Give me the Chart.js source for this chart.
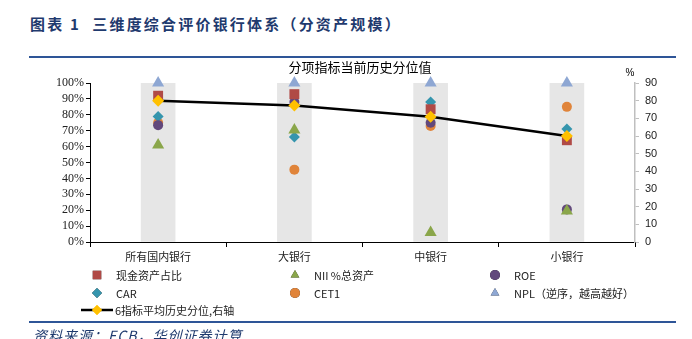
<!DOCTYPE html>
<html>
<head>
<meta charset="utf-8">
<script src="https://cdn.jsdelivr.net/npm/chart.js@4.4.0/dist/chart.umd.min.js"></script>
<style>
    body { margin: 0; background: #fff; }
    #wrap { position: relative; width: 692px; height: 339px; overflow: hidden; }
    #head {
        position: absolute; left: 30px; top: 13px;
        font-family: "Noto Sans CJK SC", sans-serif; font-weight: bold;
        font-size: 15px; color: #1f3a6e; letter-spacing: 2.2px;
    }
    #headLine { position: absolute; left: 29px; top: 56px; width: 647px; height: 2px; background: #2e5597; }
    #footLine { position: absolute; left: 29px; top: 321px; width: 647px; height: 1.5px; background: #2e5597; }
    #foot {
        position: absolute; left: 33px; top: 325px;
        font-family: "Noto Sans CJK SC", sans-serif; font-style: italic;
        font-size: 14px; color: #1f3a6e; letter-spacing: 1px;
    }
    canvas { position: absolute; left: 0; top: 0; }
</style>
</head>
<body>
<div id="wrap">
    <div id="head">图表 1&nbsp;&nbsp;三维度综合评价银行体系（分资产规模）</div>
    <div id="headLine"></div>
    <canvas id="myChart" width="692" height="339"></canvas>
    <div id="footLine"></div>
    <div id="foot">资料来源：ECB，华创证券计算</div>
</div>
<script>
// categories
const categories = ['所有国内银行', '大银行', '中银行', '小银行'];

// marker series (left axis, %)
const cashRatio = [92, 93, 83.5, 64];
const niiAssets = [61, 70.5, 6, 19.5];
const roe = [73.5, 88, 75, 20.5];
const car = [79, 66, 88, 71];
const cet1 = [75, 45.5, 73, 85];
const npl = [100, 100, 100, 100];

// grey background columns (left axis)
const backColumn = [100, 100, 100, 100];

// average of the 6 indicators (right axis)
const avgPercentile = [80, 77.2, 70.9, 60];

// tick settings
const leftTicks = { min: 0, max: 100, step: 10 };
const rightTicks = { min: 0, max: 90, step: 10 };

const serif = '"Liberation Serif", "Times New Roman", serif';
const cjk = '"Noto Sans CJK SC", sans-serif';

function marker(label, data, style, color, radius) {
    return {
        type: 'line',
        label: label,
        data: data,
        yAxisID: 'yLeft',
        showLine: false,
        pointStyle: style,
        pointRadius: radius,
        pointHoverRadius: radius,
        backgroundColor: color,
        borderColor: color,
        borderWidth: 0,
        clip: false,
        order: 2
    };
}

// legend drawn by hand: 3 columns + line item
const legendPlugin = {
    id: 'gridLegend',
    afterDraw(chart) {
        const c = chart.ctx;
        const cols = [97, 295, 495];
        const rows = [275, 293];
        const items = chart.data.datasets.filter(d => d.order === 2);
        c.save();
        c.font = '11px ' + cjk;
        c.textBaseline = 'middle';
        c.fillStyle = '#222';
        items.forEach((d, i) => {
            const x = cols[i % 3];
            const y = rows[Math.floor(i / 3)];
            Chart.helpers.drawPoint(c, {
                pointStyle: d.pointStyle, radius: d.pointStyle === 'rect' ? 6 : 5, rotation: 0, borderWidth: 0
            }, x, y);
            c.fillStyle = d.backgroundColor;
            c.fill();
            c.fillStyle = '#222';
            c.fillText(d.label, x + 19, y + 1);
        });
        // line item
        const avg = chart.data.datasets.find(d => d.order === 1);
        c.strokeStyle = '#000';
        c.lineWidth = 2.5;
        c.beginPath();
        c.moveTo(81, 310);
        c.lineTo(113, 310);
        c.stroke();
        c.fillStyle = avg.pointBackgroundColor;
        Chart.helpers.drawPoint(c, { pointStyle: 'rectRot', radius: 5, rotation: 0, borderWidth: 0 }, 97, 310);
        c.fill();
        c.fillStyle = '#222';
        c.fillText(avg.label, 115, 311);

        // chart title and right axis unit
        c.textAlign = 'center';
        c.font = '13px ' + cjk;
        c.fillStyle = '#000';
        c.fillText('分项指标当前历史分位值', 360, 67);
        c.font = '10px "Liberation Sans", sans-serif';
        c.fillText('%', 630, 73);
        c.restore();
    }
};

new Chart(document.getElementById('myChart'), {
    data: {
        labels: categories,
        datasets: [
            {
                type: 'bar',
                label: 'bg',
                data: backColumn,
                yAxisID: 'yLeft',
                backgroundColor: '#e6e6e6',
                barThickness: 34,
                order: 10
            },
            marker('现金资产占比', cashRatio, 'rect', '#b04a46', 7),
            marker('NII %总资产', niiAssets, 'triangle', '#8aa64a', 7),
            marker('ROE', roe, 'circle', '#62487c', 5),
            marker('CAR', car, 'rectRot', '#3595ad', 5.5),
            marker('CET1', cet1, 'circle', '#e0843a', 5),
            marker('NPL（逆序，越高越好）', npl, 'triangle', '#8ea7d3', 7),
            {
                type: 'line',
                label: '6指标平均历史分位,右轴',
                data: avgPercentile,
                yAxisID: 'yRight',
                borderColor: '#000',
                borderWidth: 2.5,
                pointStyle: 'rectRot',
                pointRadius: 6,
                pointHoverRadius: 6,
                pointBackgroundColor: '#ffc000',
                pointBorderColor: '#ffc000',
                pointBorderWidth: 0,
                tension: 0,
                clip: false,
                order: 1
            }
        ]
    },
    options: {
        responsive: false,
        animation: false,
        layout: {
            padding: { left: 40, right: 17, top: 83, bottom: 75 }
        },
        scales: {
            x: {
                offset: true,
                grid: {
                    display: true,
                    offset: true,
                    drawOnChartArea: false,
                    color: '#000',
                    tickLength: 5
                },
                border: { color: '#000', width: 1 },
                ticks: {
                    color: '#222',
                    font: { family: cjk, size: 11 },
                    padding: 3
                },
                afterFit(scale) { scale.height = 22; }
            },
            yLeft: {
                position: 'left',
                min: leftTicks.min,
                max: leftTicks.max,
                grid: { drawOnChartArea: false, color: '#000', tickLength: 4 },
                border: { color: '#000', width: 1 },
                ticks: {
                    stepSize: leftTicks.step,
                    autoSkip: false,
                    color: '#222',
                    font: { family: serif, size: 12 },
                    padding: 2,
                    callback: v => v + '%'
                },
                afterFit(scale) { scale.width = 50; }
            },
            yRight: {
                position: 'right',
                min: rightTicks.min,
                max: rightTicks.max,
                grid: { drawOnChartArea: false, color: '#bfbfbf', tickLength: 4 },
                border: { color: '#bfbfbf', width: 1.5 },
                ticks: {
                    stepSize: rightTicks.step,
                    autoSkip: false,
                    color: '#222',
                    font: { family: '"Liberation Sans", sans-serif', size: 11 },
                    padding: 6
                },
                afterFit(scale) { scale.width = 40; }
            }
        },
        plugins: {
            legend: { display: false },
            title: { display: false },
            tooltip: { enabled: false }
        }
    },
    plugins: [legendPlugin]
});
</script>
</body>
</html>
